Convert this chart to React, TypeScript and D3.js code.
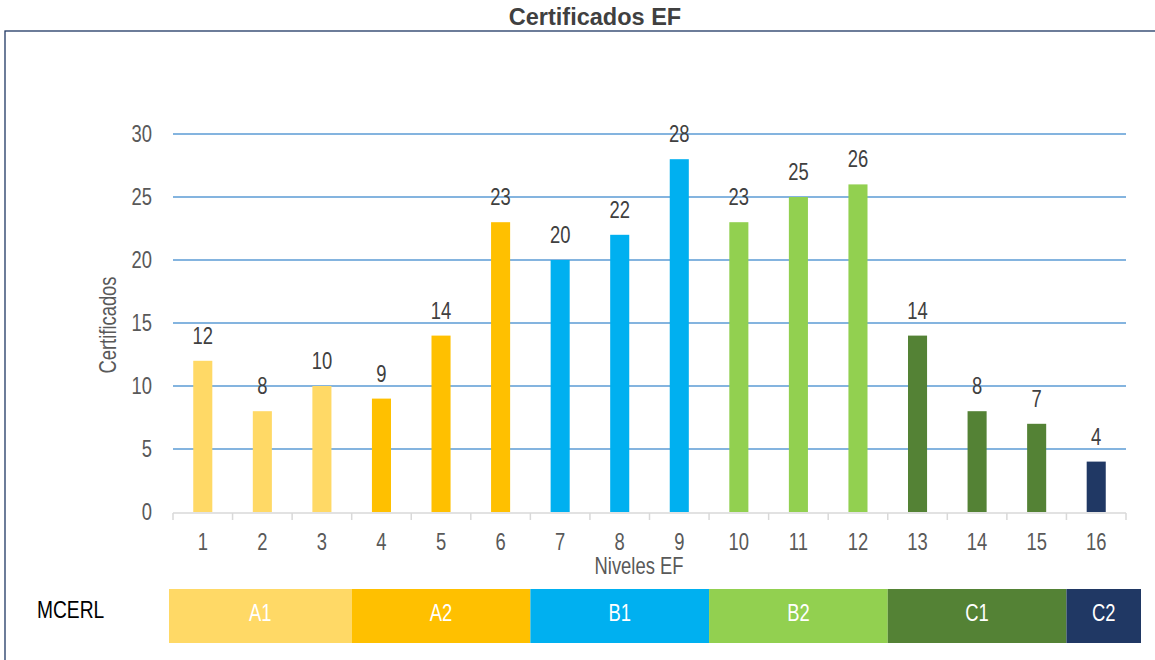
import * as d3 from "d3";

// niveles EF 1..16 y certificados por nivel
const niveles = ["1", "2", "3", "4", "5", "6", "7", "8", "9", "10", "11", "12", "13", "14", "15", "16"];
const certificados = [12, 8, 10, 9, 14, 23, 20, 22, 28, 23, 25, 26, 14, 8, 7, 4];
const nivelMcerl = ["A1", "A1", "A1", "A2", "A2", "A2", "B1", "B1", "B1", "B2", "B2", "B2", "C1", "C1", "C1", "C2"];

const bandas = ["A1", "A2", "B1", "B2", "C1", "C2"];
const bandaColores = ["#FFD966", "#FFC000", "#00B0F0", "#92D050", "#548235", "#203864"];
const yTicks = [0, 5, 10, 15, 20, 25, 30];

const W = 1155;
const H = 660;
const SANS = "'Liberation Sans', Arial, sans-serif";
const FS = 23;
const SQUEEZE = 0.8; // imita una fuente estrecha (Arial Narrow)

// texto estrecho: escala horizontal sobre Liberation Sans
function NText({ x, y, anchor = "middle", fill = "#595959", size = FS, rotate = 0, children }) {
  return (
    <text
      transform={`translate(${x}, ${y}) rotate(${rotate}) scale(${SQUEEZE}, 1)`}
      textAnchor={anchor}
      fontFamily={SANS}
      fontSize={size}
      fill={fill}
    >
      {children}
    </text>
  );
}

function App() {
  const margin = { left: 173, right: 29, top: 134, bottom: 148 };
  const innerH = H - margin.top - margin.bottom;

  const color = d3.scaleOrdinal<string, string>().domain(bandas).range(bandaColores);

  const x = d3.scaleBand().domain(niveles).range([margin.left, W - margin.right]).paddingInner(0.68).paddingOuter(0.34);
  const xCat = d3.scaleBand().domain(niveles).range([margin.left, W - margin.right]);
  const y = d3.scaleLinear().domain([0, 30]).range([margin.top + innerH, margin.top]);

  const y0 = y(0);

  // bloques MCERL que cubren los niveles
  const bloques = bandas.map((b, i) => {
    const idx = nivelMcerl.map((n, k) => (n === b ? k : -1)).filter((k) => k >= 0);
    let x0 = xCat(niveles[idx[0]]);
    let x1 = xCat(niveles[idx[idx.length - 1]]) + xCat.bandwidth();
    if (i === 0) x0 -= 4;
    if (i === bandas.length - 1) x1 += 15;
    return { b, x0, x1 };
  });

  return (
    <svg width={W} height={H} style={{ position: "absolute", left: 0, top: 0 }}>
      <rect x={0} y={0} width={W} height={H} fill="#fff" />
      <rect x={5} y={31} width={W + 10} height={H} fill="none" stroke="#1F3864" strokeWidth={1.3} />
      <text x={595} y={25} textAnchor="middle" fontFamily={SANS} fontWeight="bold" fontSize={23.5} fill="#404040">
        Certificados EF
      </text>

      {yTicks.filter((t) => t > 0).map((t) => (
        <line key={`g-${t}`} x1={margin.left} x2={W - margin.right} y1={y(t)} y2={y(t)} stroke="#5B9BD5" strokeWidth={1.5} />
      ))}
      {yTicks.map((t) => (
        <NText key={`yt-${t}`} x={152} y={y(t) + 8} anchor="end">
          {t}
        </NText>
      ))}

      {certificados.map((v, i) => (
        <rect
          key={`bar-${i}`}
          x={x(niveles[i])}
          y={y(v)}
          width={x.bandwidth()}
          height={y0 - y(v)}
          fill={color(nivelMcerl[i])}
        />
      ))}
      {certificados.map((v, i) => (
        <NText key={`lbl-${i}`} x={x(niveles[i]) + x.bandwidth() / 2} y={y(v) - 17} fill="#404040">
          {v}
        </NText>
      ))}

      <line x1={margin.left} x2={W - margin.right} y1={y0 + 1} y2={y0 + 1} stroke="#D9D9D9" strokeWidth={1.5} />
      {d3.range(niveles.length + 1).map((k) => {
        const tx = margin.left + k * xCat.step();
        return <line key={`tk-${k}`} x1={tx} x2={tx} y1={y0 + 1} y2={y0 + 8} stroke="#D9D9D9" strokeWidth={1.5} />;
      })}
      {niveles.map((n) => (
        <NText key={`xt-${n}`} x={xCat(n) + xCat.bandwidth() / 2} y={550}>
          {n}
        </NText>
      ))}

      <NText x={639} y={574}>Niveles EF</NText>
      <NText x={116} y={325} rotate={-90}>Certificados</NText>

      <NText x={37} y={618} anchor="start" fill="#000" size={24}>MCERL</NText>
      {bloques.map((d) => (
        <g key={`b-${d.b}`}>
          <rect x={d.x0} y={589} width={d.x1 - d.x0} height={54} fill={color(d.b)} />
          <NText x={(d.x0 + d.x1) / 2} y={621} fill="#fff">
            {d.b}
          </NText>
        </g>
      ))}
    </svg>
  );
}

export default App;
